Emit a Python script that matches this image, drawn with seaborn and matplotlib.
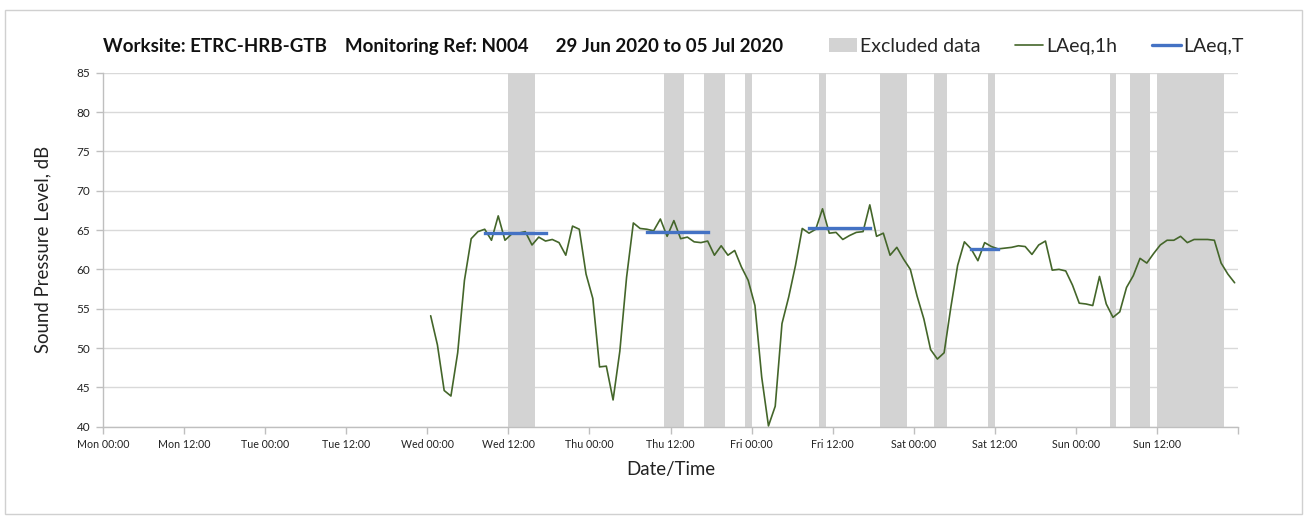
import pandas as pd
import numpy as np
import matplotlib
matplotlib.use("Agg")
import matplotlib.pyplot as plt
import matplotlib.dates as mdates
from matplotlib.patches import Patch, Rectangle
from matplotlib.lines import Line2D
import seaborn as sns

# hourly LAeq,1h values (dB), plotted at the half hour
wed = [54.1, 50.4, 44.6, 43.9, 49.4, 58.6, 63.9, 64.8, 65.1, 63.7, 66.8, 63.7,
       64.5, 64.6, 64.8, 63.1, 64.1, 63.6, 63.8, 63.4, 61.8, 65.5, 65.1, 59.4]
thu = [56.3, 47.6, 47.7, 43.4, 49.6, 59.0, 65.9, 65.2, 65.1, 64.9, 66.4, 64.2,
       66.2, 63.9, 64.1, 63.5, 63.4, 63.6, 61.8, 63.0, 61.8, 62.4, 60.3, 58.6]
fri = [55.4, 46.3, 40.1, 42.6, 53.1, 56.5, 60.5, 65.2, 64.6, 65.1, 67.7, 64.6,
       64.7, 63.8, 64.3, 64.7, 64.8, 68.2, 64.2, 64.6, 61.8, 62.8, 61.3, 60.0]
sat = [56.6, 53.7, 49.8, 48.6, 49.4, 55.2, 60.5, 63.5, 62.6, 61.1, 63.4, 62.9,
       62.6, 62.7, 62.8, 63.0, 62.9, 61.9, 63.1, 63.6, 59.9, 60.0, 59.8, 58.0]
sun = [55.7, 55.6, 55.4, 59.1, 55.6, 53.9, 54.6, 57.7, 59.2, 61.4, 60.8, 62.0,
       63.1, 63.7, 63.7, 64.2, 63.4, 63.8, 63.8, 63.8, 63.7, 60.8, 59.4, 58.3]
first_hour = "2020-07-01 00:30"

# LAeq,T periods: start, end, level
laeqt_start = ["2020-07-01 08:30", "2020-07-02 08:30", "2020-07-03 08:30", "2020-07-04 08:30"]
laeqt_end = ["2020-07-01 17:30", "2020-07-02 17:30", "2020-07-03 17:30", "2020-07-04 12:30"]
laeqt_val = [64.6, 64.8, 65.3, 62.6]

# excluded data periods
excl_start = ["2020-07-01 12:00", "2020-07-02 11:00", "2020-07-02 17:00", "2020-07-02 23:00",
              "2020-07-03 10:00", "2020-07-03 19:00", "2020-07-04 03:00", "2020-07-04 11:00",
              "2020-07-05 05:00", "2020-07-05 08:00", "2020-07-05 12:00"]
excl_end = ["2020-07-01 16:00", "2020-07-02 14:00", "2020-07-02 20:00", "2020-07-03 00:00",
            "2020-07-03 11:00", "2020-07-03 23:00", "2020-07-04 05:00", "2020-07-04 12:00",
            "2020-07-05 06:00", "2020-07-05 11:00", "2020-07-05 22:00"]

title = "Worksite: ETRC-HRB-GTB    Monitoring Ref: N004      29 Jun 2020 to 05 Jul 2020"
t0 = pd.Timestamp("2020-06-29 00:00")
t1 = pd.Timestamp("2020-07-06 00:00")

#%% data frames
levels = wed + thu + fri + sat + sun
df = pd.DataFrame({"time": pd.date_range(first_hour, periods=len(levels), freq="h"),
                   "level": levels})

rows = []
for i in range(len(laeqt_val)):
    rows.append({"period": i, "time": pd.Timestamp(laeqt_start[i]), "level": laeqt_val[i]})
    rows.append({"period": i, "time": pd.Timestamp(laeqt_end[i]), "level": laeqt_val[i]})
dft = pd.DataFrame(rows)

#%% plot
sns.set_theme(style="white")
plt.rcParams["font.family"] = ["Lato", "DejaVu Sans"]

green = "#44662a"
blue = "#4472c4"
grey = "#d3d3d3"

fig = plt.figure(figsize=(13.15, 5.21), dpi=100)
ax = fig.add_axes([103 / 1315, 1 - 426.7 / 521, (1238 - 103) / 1315, (426.7 - 72.7) / 521])

for s, e in zip(excl_start, excl_end):
    ax.axvspan(pd.Timestamp(s), pd.Timestamp(e), color=grey, lw=0, zorder=1)

sns.lineplot(data=df, x="time", y="level", color=green, lw=1.2, ax=ax, zorder=3)
sns.lineplot(data=dft, x="time", y="level", units="period", estimator=None,
             color=blue, lw=2.4, ax=ax, zorder=4, solid_capstyle="projecting")

ax.set_xlim(t0, t1)
ax.set_ylim(40, 85)
ax.set_yticks(np.arange(40, 86, 5))
ax.xaxis.set_major_locator(mdates.HourLocator(byhour=[0, 12]))


def fmt_time(x, pos):
    d = mdates.num2date(x).replace(tzinfo=None)
    if d >= t1:
        return ""
    return d.strftime("%a %H:%M")


ax.xaxis.set_major_formatter(plt.FuncFormatter(fmt_time))
ax.xaxis.set_minor_locator(mdates.HourLocator(byhour=[0]))

ax.grid(False)
ax.grid(which="minor", axis="x", color="#d9d9d9", lw=1, zorder=0)
ax.grid(which="major", axis="y", color="#d9d9d9", lw=1, zorder=0)
ax.set_axisbelow(True)

for side in ["top", "right"]:
    ax.spines[side].set_visible(False)
for side in ["left", "bottom"]:
    ax.spines[side].set_color("#bfbfbf")
    ax.spines[side].set_linewidth(1)
ax.tick_params(axis="both", which="major", length=5, width=1, color="#bfbfbf",
               labelcolor="#222222", pad=4, bottom=True, left=True)
ax.tick_params(axis="x", which="major", labelsize=7.7)
ax.tick_params(axis="y", which="major", labelsize=8.5)
ax.tick_params(axis="x", which="minor", length=0)

ax.set_xlabel("Date/Time", fontsize=13.4, color="#222222", labelpad=8)
ax.set_ylabel("Sound Pressure Level, dB", fontsize=13.4, color="#222222", labelpad=18)

ax.text(0.0, 1.05, title, transform=ax.transAxes, fontsize=13.5, fontweight="bold",
        color="#111111", va="bottom", ha="left")

handles = [Patch(color=grey, lw=0),
           Line2D([], [], color=green, lw=1.2),
           Line2D([], [], color=blue, lw=2.4)]
ax.legend(handles, ["Excluded data", "LAeq,1h", "LAeq,T"], ncol=3, frameon=False,
          loc="lower right", bbox_to_anchor=(1.012, 1.028), fontsize=14,
          handlelength=1.45, handletextpad=0.15, columnspacing=1.8, borderaxespad=0)

fig.patches.append(Rectangle((5 / 1315, 1 - 514 / 521), 1297 / 1315, 504 / 521,
                             transform=fig.transFigure, fill=False,
                             edgecolor="#d0d0d0", lw=1))

fig.savefig("out.png", dpi=100)
